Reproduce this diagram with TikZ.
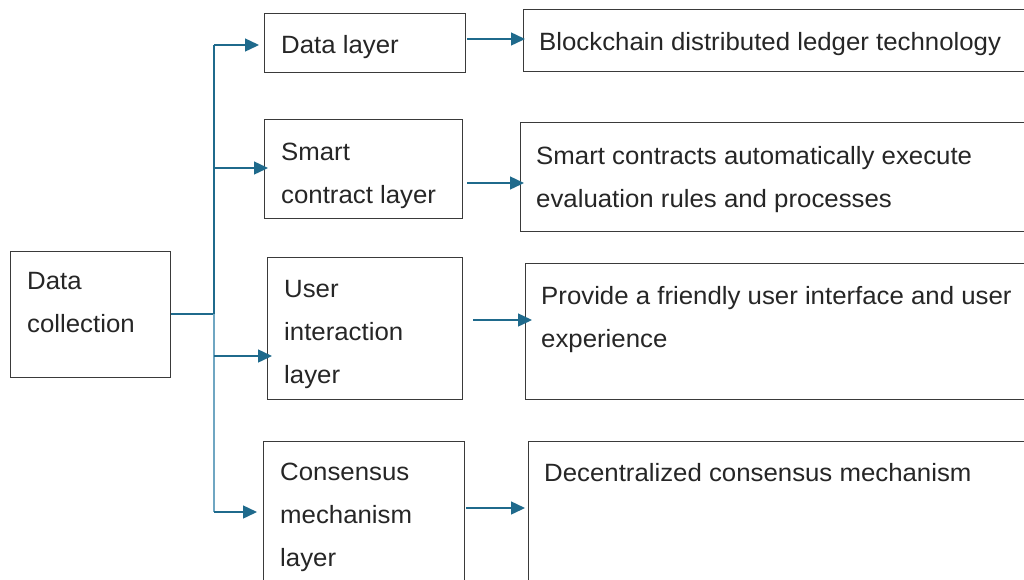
\documentclass[tikz,border=0pt]{standalone}
\usepackage{fontspec}
\setmainfont{Liberation Sans}[FakeStretch=1.032]
\usetikzlibrary{arrows.meta}
\definecolor{arr}{HTML}{1F6A8C}
\definecolor{arrlight}{HTML}{6FA6C2}
\definecolor{boxline}{HTML}{3A3A3A}
\tikzset{
  box/.style={draw=boxline, line width=1.3pt, rectangle, inner sep=0pt, anchor=north west},
  txt/.style={anchor=north west, inner sep=0pt, align=left, font=\fontsize{25}{43}\selectfont, text=black!85},
  conn/.style={draw=arr, line width=1.4pt},
  tip/.style={-{Triangle[length=14pt,width=13pt]}, draw=arr, line width=1.4pt}
}
\begin{document}
\begin{tikzpicture}[x=1pt,y=-1pt]
\clip (0,0) rectangle (1024,579);
\fill[white] (0,0) rectangle (1024,579);
% left box
\node[box, minimum width=160pt, minimum height=126pt] (dc) at (10,251) {};
\node[txt] (dct) at (27,272) {Data\\collection};
% middle boxes
\node[box, minimum width=201pt, minimum height=59pt] (dl) at (264,13) {};
\node[txt] (dlt) at (281,35) {Data layer};
\node[box, minimum width=198pt, minimum height=99pt] (sc) at (264,119) {};
\node[txt] (sct) at (281,143) {Smart\\contract layer};
\node[box, minimum width=195pt, minimum height=142pt] (ui) at (267,257) {};
\node[txt] (uit) at (284,280) {User\\interaction\\layer};
\node[box, minimum width=201pt, minimum height=160pt] (cm) at (263,441) {};
\node[txt] (cmt) at (280,463) {Consensus\\mechanism\\layer};
% right boxes
\node[box, minimum width=520pt, minimum height=62pt] (bc) at (523,9) {};
\node[txt] (bct) at (539,32) {Blockchain distributed ledger technology};
\node[box, minimum width=520pt, minimum height=109pt] (se) at (520,122) {};
\node[txt] (set) at (536,146) {Smart contracts automatically execute\\evaluation rules and processes};
\node[box, minimum width=520pt, minimum height=136pt] (pf) at (525,263) {};
\node[txt] (pft) at (541,286) {Provide a friendly user interface and user\\experience};
\node[box, minimum width=520pt, minimum height=160pt] (dm) at (528,441) {};
\node[txt] (dmt) at (544,463) {Decentralized consensus mechanism};
% trunk
\coordinate (j) at (214,314);
\coordinate (t1) at (214,45);
\coordinate (t2) at (214,168);
\coordinate (t3) at (214,356);
\coordinate (t4) at (214,512);
\draw[conn] (dc.east |- j) -- (j);
\draw[conn] (t1) -- (j);
\draw[draw=arrlight, line width=1.4pt] (j) -- (t4);
\draw[tip] (t1) -- ([xshift=-5pt]dl.west |- t1);
\draw[tip] (t2) -- ([xshift=4pt]sc.west |- t2);
\draw[tip] (t3) -- ([xshift=5pt]ui.west |- t3);
\draw[tip] (t4) -- ([xshift=-6pt]cm.west |- t4);
% right arrows
\coordinate (r1) at (467,39);
\coordinate (r2) at (467,183);
\coordinate (r3) at (473,320);
\coordinate (r4) at (466,508);
\draw[tip] (r1) -- ([xshift=2pt]bc.west |- r1);
\draw[tip] (r2) -- ([xshift=4pt]se.west |- r2);
\draw[tip] (r3) -- ([xshift=7pt]pf.west |- r3);
\draw[tip] (r4) -- ([xshift=-3pt]dm.west |- r4);
\end{tikzpicture}
\end{document}
